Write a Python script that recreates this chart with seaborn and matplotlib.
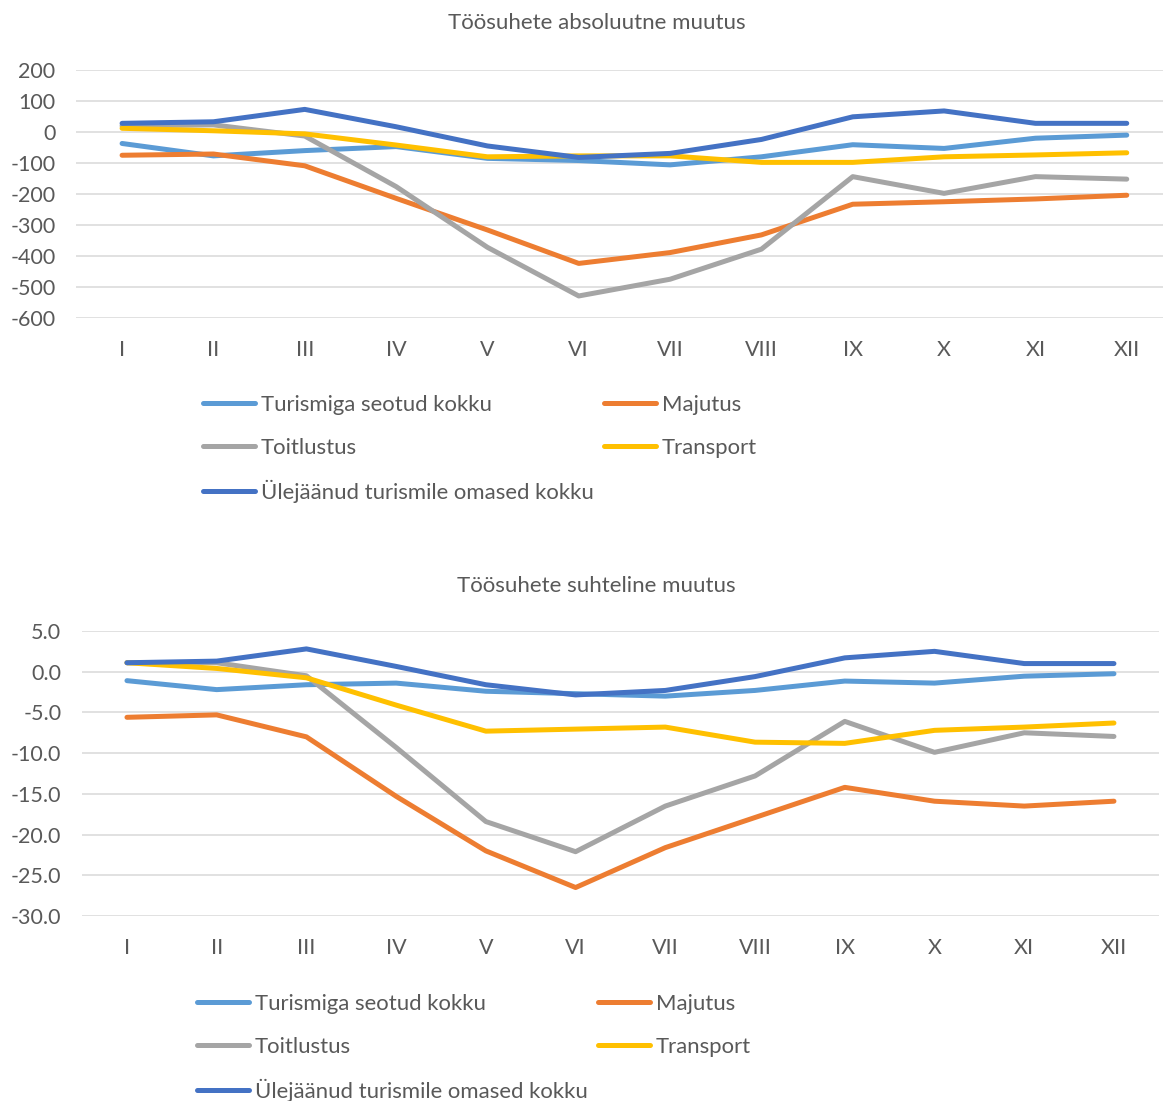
import numpy as np
import pandas as pd
import matplotlib
matplotlib.use("Agg")
import matplotlib.pyplot as plt
import seaborn as sns

months = ["I", "II", "III", "IV", "V", "VI", "VII", "VIII", "IX", "X", "XI", "XII"]
series = ["Turismiga seotud kokku", "Majutus", "Toitlustus", "Transport",
          "Ülejäänud turismile omased kokku"]
colors = ["#5B9BD5", "#ED7D31", "#A5A5A5", "#FFC000", "#4472C4"]

# absoluutne muutus
abs_turism = [-37, -77, -60, -47, -85, -92, -106, -80, -41, -53, -20, -10]
abs_majutus = [-75, -71, -109, -214, -316, -424, -389, -332, -233, -225, -216, -204]
abs_toitlustus = [20, 23, -13, -176, -372, -529, -475, -378, -144, -198, -144, -152]
abs_transport = [12, 4, -6, -42, -80, -77, -77, -98, -98, -80, -74, -67]
abs_ylejaanud = [28, 33, 73, 17, -45, -82, -69, -24, 49, 68, 28, 28]

# suhteline muutus (%)
rel_turism = [-1.1, -2.2, -1.6, -1.4, -2.4, -2.7, -3.0, -2.3, -1.15, -1.4, -0.55, -0.25]
rel_majutus = [-5.6, -5.3, -8.0, -15.3, -22.0, -26.5, -21.6, -17.9, -14.2, -15.9, -16.5, -15.9]
rel_toitlustus = [1.1, 1.1, -0.5, -9.3, -18.4, -22.1, -16.5, -12.8, -6.1, -9.9, -7.5, -7.95]
rel_transport = [1.1, 0.4, -0.75, -4.1, -7.3, -7.05, -6.8, -8.65, -8.8, -7.2, -6.8, -6.3]
rel_ylejaanud = [1.1, 1.3, 2.8, 0.65, -1.6, -2.85, -2.3, -0.6, 1.7, 2.5, 1.0, 1.0]


def long_df(vals):
    rows = []
    for name, v in zip(series, vals):
        for m, y in zip(months, v):
            rows.append({"kuu": m, "vaartus": y, "seeria": name})
    return pd.DataFrame(rows)


df_abs = long_df([abs_turism, abs_majutus, abs_toitlustus, abs_transport, abs_ylejaanud])
df_rel = long_df([rel_turism, rel_majutus, rel_toitlustus, rel_transport, rel_ylejaanud])

sns.set_style("white")
plt.rcParams["font.family"] = ["Lato", "DejaVu Sans"]
txt = "#595959"
pal = dict(zip(series, colors))

fig = plt.figure(figsize=(11.63, 11.01), dpi=100)
ax1 = fig.add_axes([0.0657, 0.7112, 0.9424, 0.2252])
ax2 = fig.add_axes([0.0706, 0.168, 0.9258, 0.2589])


def draw(ax, df, ylim, yticks, fmt, title, title_y):
    sns.lineplot(data=df, x="kuu", y="vaartus", hue="seeria", palette=pal,
                 hue_order=series, sort=False, linewidth=3.6, legend=False, ax=ax,
                 solid_capstyle="round")
    ax.set_xlim(-0.5, 11.5)
    ax.set_ylim(*ylim)
    ax.set_yticks(yticks)
    ax.set_yticklabels([fmt.format(t) for t in yticks])
    ax.grid(axis="y", color="#D9D9D9", linewidth=1.1)
    ax.set_axisbelow(True)
    for s in ax.spines.values():
        s.set_visible(False)
    ax.tick_params(axis="y", length=0, pad=15, labelsize=15.5, labelcolor=txt)
    ax.tick_params(axis="x", length=0, pad=16, labelsize=15.5, labelcolor=txt)
    ax.set_xlabel("")
    ax.set_ylabel("")
    fig.text(0.513, title_y, title, ha="center", va="center", fontsize=16, color=txt)


draw(ax1, df_abs, (-600, 200), list(range(-600, 201, 100)), "{:d}",
     "Töösuhete absoluutne muutus", 1 - 23 / 1101)
draw(ax2, df_rel, (-30, 5), [-30, -25, -20, -15, -10, -5, 0, 5], "{:.1f}",
     "Töösuhete suhteline muutus", 1 - 586 / 1101)

handles = {s: plt.Line2D([], [], color=c, linewidth=3.6, solid_capstyle="round")
           for s, c in zip(series, colors)}
col1 = [series[0], series[2], series[4]]
col2 = [series[1], series[3]]


def legend(x1, x2, ytop):
    for col, x in ((col1, x1), (col2, x2)):
        fig.legend([handles[s] for s in col], col, loc="upper left",
                   bbox_to_anchor=(x, ytop), bbox_transform=fig.transFigure,
                   frameon=False, fontsize=15.9, labelcolor=txt, handlelength=2.35,
                   handletextpad=0.28, labelspacing=1.02, borderpad=0, borderaxespad=0)


legend(203 / 1163, 604 / 1163, 1 - 395 / 1101)
legend(197 / 1163, 598 / 1163, 1 - 994 / 1101)

fig.savefig("out.png", dpi=100)
